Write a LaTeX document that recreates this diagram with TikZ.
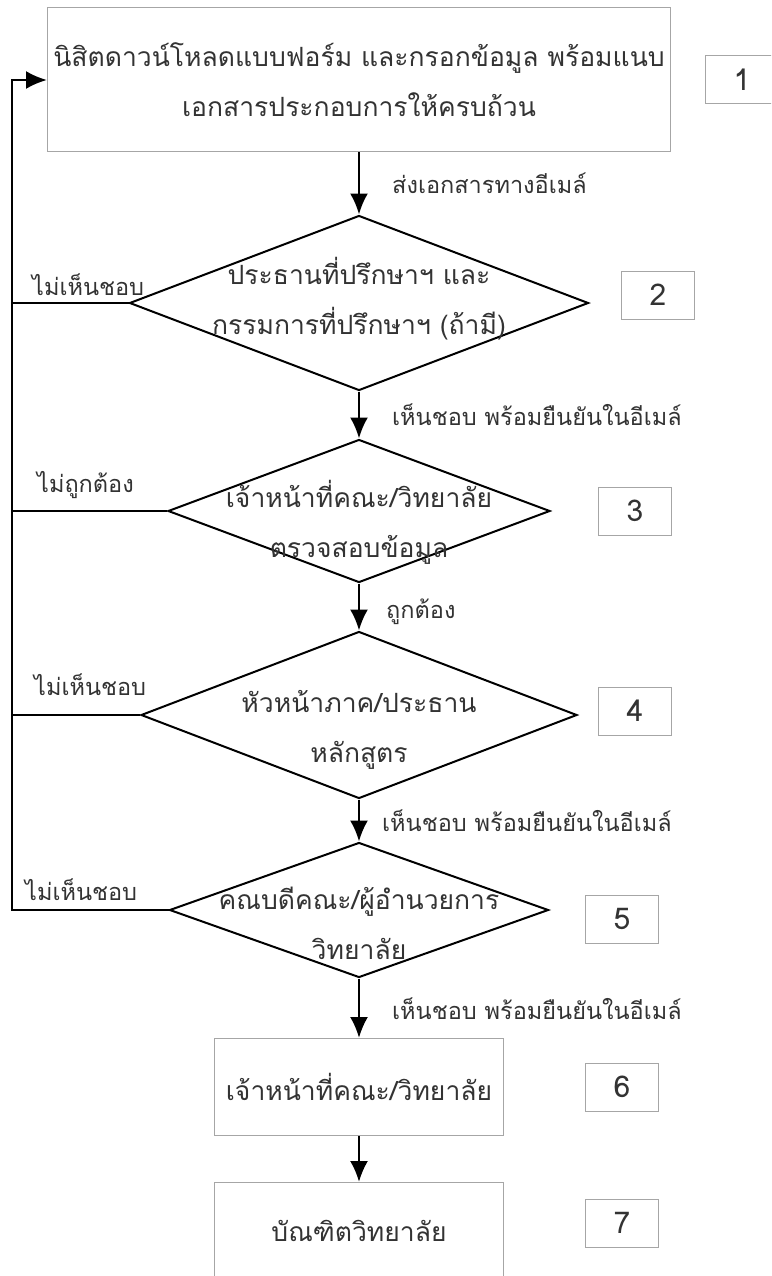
\documentclass[tikz,border=0pt]{standalone}
\usepackage{fontspec}
\newfontfamily\thaifont[Script=Thai]{Loma}
\usetikzlibrary{arrows.meta,shapes}
\tikzset{>={Latex[length=21pt,width=18pt]}}
\tikzstyle{procbox}=[rectangle,draw=gray!70,line width=1pt,text=black!80,align=center,font=\thaifont\fontsize{26.5}{50}\selectfont]
\tikzstyle{decision}=[diamond,draw=black,line width=2pt,inner sep=0pt]
\tikzstyle{decitext}=[text=black!80,align=center,font=\thaifont\fontsize{26.5}{50}\selectfont]
\tikzstyle{numbox}=[rectangle,draw=gray!70,line width=1pt,minimum width=73pt,minimum height=48pt,text=black!80,font=\thaifont\fontsize{30}{34}\selectfont]
\tikzstyle{flowlabel}=[text=black!80,inner sep=2pt,font=\thaifont\fontsize{23.5}{26}\selectfont]
\tikzstyle{flow}=[->,line width=2.4pt]

\begin{document}
\begin{tikzpicture}[x=1pt,y=-1pt]
\def \cx {359};
\def \loopx {12};
\path[use as bounding box,clip] (0,0) rectangle (771,1276);

% steps down the middle
\node[procbox,minimum width=623pt,minimum height=144pt] (b1) at (\cx,80)
	{นิสิตดาวน์โหลดแบบฟอร์ม และกรอกข้อมูล พร้อมแนบ\\เอกสารประกอบการให้ครบถ้วน};
\node[decision,minimum width=459pt,minimum height=175pt] (d2) at (\cx,303) {};
\node[decision,minimum width=382pt,minimum height=143pt] (d3) at (\cx,511) {};
\node[decision,minimum width=436pt,minimum height=167pt] (d4) at (\cx,715) {};
\node[decision,minimum width=379pt,minimum height=135pt] (d5) at (\cx,910) {};
\node[procbox,minimum width=289pt,minimum height=97pt] (b6) at (\cx,1087) {เจ้าหน้าที่คณะ/วิทยาลัย};
\node[procbox,minimum width=289pt,minimum height=97pt] (b7) at (\cx,1231) {บัณฑิตวิทยาลัย};

\node[decitext] (t2) at (\cx,299) {ประธานที่ปรึกษาฯ และ\\กรรมการที่ปรึกษาฯ (ถ้ามี)};
\node[decitext] (t3) at (\cx,522) {เจ้าหน้าที่คณะ/วิทยาลัย\\ตรวจสอบข้อมูล};
\node[decitext] (t4) at (\cx,730) {หัวหน้าภาค/ประธาน\\หลักสูตร};
\node[decitext] (t5) at (\cx,923) {คณบดีคณะ/ผู้อำนวยการ\\วิทยาลัย};

% step numbers
\foreach \i/\x/\y in {1/742/80, 2/658/295, 3/635/511, 4/635/711, 5/622/919, 6/622/1087, 7/622/1223} {
	\node[numbox] (n\i) at (\x,\y) {\i};
};

% forward arrows
\draw[flow] (b1) -- (d2) node[flowlabel,midway,right,xshift=30pt] (e1) {ส่งเอกสารทางอีเมล์};
\draw[flow] (d2) -- (d3) node[flowlabel,midway,right,xshift=30pt] (e2) {เห็นชอบ พร้อมยืนยันในอีเมล์};
\draw[flow] (d3) -- (d4) node[flowlabel,midway,right,xshift=24pt,yshift=-5pt] (e3) {ถูกต้อง};
\draw[flow] (d4) -- (d5) node[flowlabel,midway,right,xshift=20pt] (e4) {เห็นชอบ พร้อมยืนยันในอีเมล์};
\draw[flow] (d5) -- (b6) node[flowlabel,midway,right,xshift=30pt] (e5) {เห็นชอบ พร้อมยืนยันในอีเมล์};
\draw[flow] (b6) -- (b7);

% way back to the start
\coordinate (looptop) at (\loopx,80);
\coordinate (loopbot) at (\loopx,910);
\draw[flow] (d5.west) -- (loopbot) -- (looptop) -- (b1.west);
\draw[line width=2.4pt] (d2.west) -- (d2.west -| looptop);
\draw[line width=2.4pt] (d3.west) -- (d3.west -| looptop);
\draw[line width=2.4pt] (d4.west) -- (d4.west -| looptop);

\node[flowlabel,anchor=south west] (r2) at (30,298) {ไม่เห็นชอบ};
\node[flowlabel,anchor=south west] (r3) at (35,501) {ไม่ถูกต้อง};
\node[flowlabel,anchor=south west] (r4) at (32,698) {ไม่เห็นชอบ};
\node[flowlabel,anchor=south west] (r5) at (23,903) {ไม่เห็นชอบ};

\end{tikzpicture}
\end{document}
